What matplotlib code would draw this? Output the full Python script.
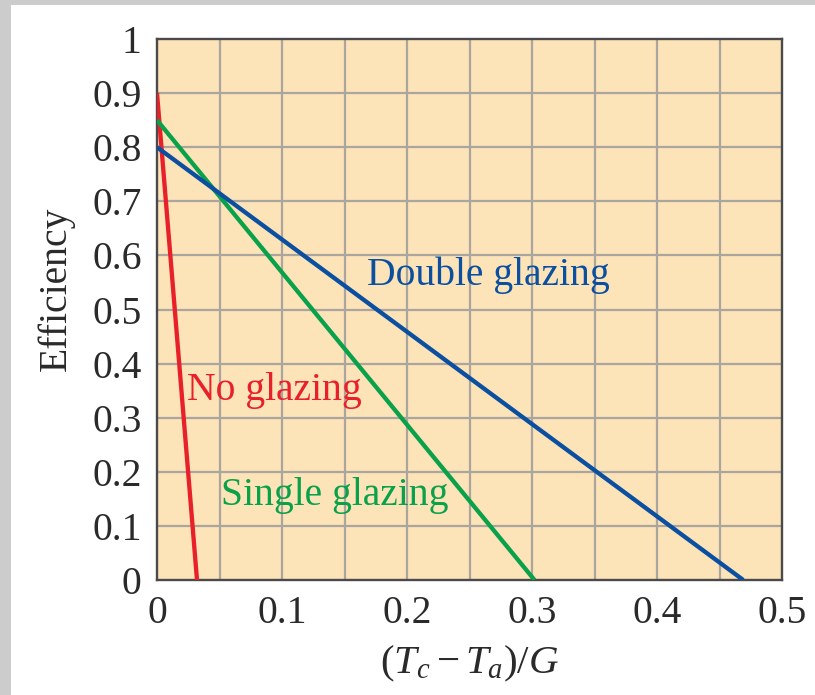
import matplotlib
matplotlib.use("Agg")
import matplotlib.pyplot as plt
from matplotlib.patches import Rectangle
import numpy as np

# Data
series_names = ["No glazing", "Single glazing", "Double glazing"]
intercepts = [0.90, 0.85, 0.80]        # efficiency at x = 0
zero_crossings = [0.032, 0.302, 0.469] # x where efficiency reaches 0
colors = ["#e8202a", "#0aa14b", "#0a4fa0"]
label_pos = [(0.024, 0.351), (0.051, 0.157), (0.168, 0.564)]

xticks = [0, 0.1, 0.2, 0.3, 0.4, 0.5]
xtick_labels = ["0", "0.1", "0.2", "0.3", "0.4", "0.5"]
yticks = [0, 0.1, 0.2, 0.3, 0.4, 0.5, 0.6, 0.7, 0.8, 0.9, 1.0]
ytick_labels = ["0", "0.1", "0.2", "0.3", "0.4", "0.5", "0.6", "0.7", "0.8", "0.9", "1"]

plt.rcParams['font.family'] = ['Liberation Serif', 'DejaVu Serif']
plt.rcParams['mathtext.fontset'] = 'custom'
plt.rcParams['mathtext.rm'] = 'Liberation Serif'
plt.rcParams['mathtext.it'] = 'Liberation Serif:italic'

FS = 28.5

fig = plt.figure(figsize=(8.15, 6.95), dpi=100)
fig.patch.set_facecolor("white")
# grey frame strips (top and left)
fig.add_artist(Rectangle((0, 1 - 5/695), 1, 5/695, transform=fig.transFigure,
                         facecolor="#cccccc", edgecolor="none"))
fig.add_artist(Rectangle((0, 0), 11/815, 1, transform=fig.transFigure,
                         facecolor="#cccccc", edgecolor="none"))

ax = fig.add_axes([157/815, 1 - 580/695, 625/815, 541/695])
ax.set_facecolor("#fde3b8")
ax.set_xlim(0, 0.5)
ax.set_ylim(0, 1.0)

for x in np.arange(0.05, 0.5, 0.05):
    ax.axvline(x, color="#aaa69e", lw=1.6, zorder=1)
for y in yticks[1:-1]:
    ax.axhline(y, color="#aaa69e", lw=1.6, zorder=1)

for name, b, z, c, (tx, ty) in zip(series_names, intercepts, zero_crossings, colors, label_pos):
    ax.plot([0, z], [b, 0], color=c, lw=3.1, zorder=3, solid_capstyle="butt")
    ax.text(tx, ty, name, color=c, fontsize=FS, va="center", ha="left", zorder=4)

ax.set_xticks(xticks)
ax.set_xticklabels(xtick_labels)
ax.set_yticks(yticks)
ax.set_yticklabels(ytick_labels)
ax.tick_params(length=0, labelsize=FS, pad=11, colors="#2a2a2a")
for s in ax.spines.values():
    s.set_color("#4a4a4a")
    s.set_linewidth(1.7)

ax.set_ylabel("Efficiency", fontsize=FS, color="#2a2a2a")
ax.yaxis.set_label_coords(-0.131, 0.538)
ax.set_xlabel(r"$(T_c - T_a)/G$", fontsize=29.5, labelpad=8, color="#2a2a2a")

fig.savefig("out.png", dpi=100)
